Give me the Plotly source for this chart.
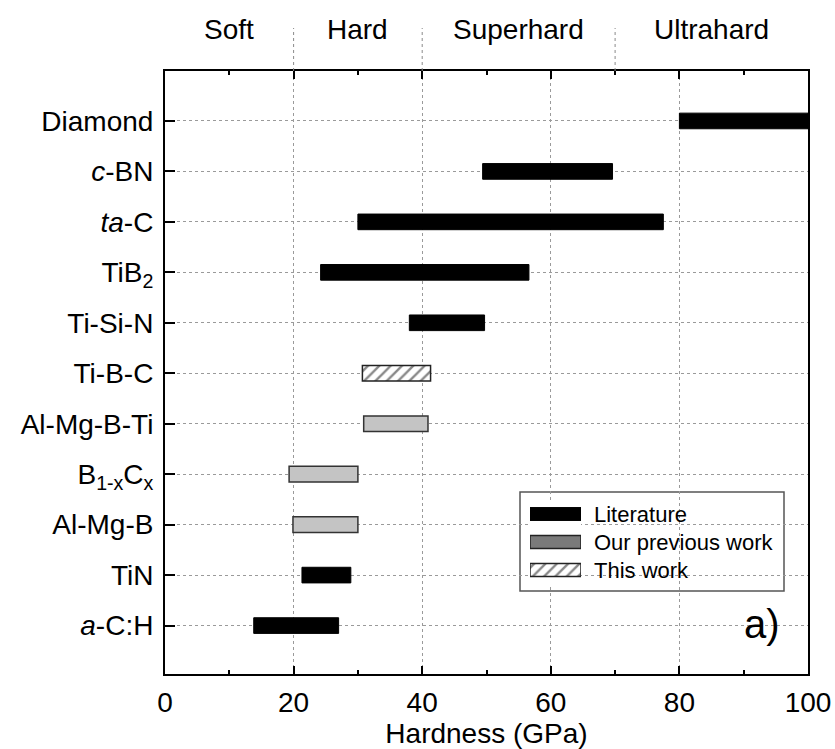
import plotly.graph_objects as go

# ---------------- data ----------------
materials = ["Diamond", "c-BN", "ta-C", "TiB2", "Ti-Si-N", "Ti-B-C",
             "Al-Mg-B-Ti", "B1-xCx", "Al-Mg-B", "TiN", "a-C:H"]
material_labels = ["Diamond", "<i>c</i>-BN", "<i>ta</i>-C", "TiB<sub>2</sub>", "Ti-Si-N", "Ti-B-C",
                   "Al-Mg-B-Ti", "B<sub>1-x</sub>C<sub>x</sub>", "Al-Mg-B", "TiN", "<i>a</i>-C:H"]
hardness_min = [80, 49.4, 30.0, 24.2, 38.0, 30.7, 30.9, 19.3, 19.9, 21.3, 13.8]
hardness_max = [100, 69.6, 77.5, 56.6, 49.7, 41.3, 40.9, 30.0, 30.0, 28.9, 27.0]
source = ["Literature", "Literature", "Literature", "Literature", "Literature", "This work",
          "Our previous work", "Our previous work", "Our previous work", "Literature", "Literature"]

regimes = ["Soft", "Hard", "Superhard", "Ultrahard"]
regime_bounds = [0, 20, 40, 70, 100]

legend_entries = ["Literature", "Our previous work", "This work"]
x_ticks = [0, 20, 40, 60, 80, 100]

# ---------------- styles ----------------
FONT = "Liberation Sans, Arial, Helvetica, sans-serif"
bar_style = {
    "Literature": dict(color="black", line=dict(color="black", width=1), pattern=dict(shape="")),
    "Our previous work": dict(color="#c4c4c4", line=dict(color="#333333", width=1.5), pattern=dict(shape="")),
    "This work": dict(color="white", line=dict(color="#222222", width=1.5),
                      pattern=dict(shape="/", fgcolor="#111111", bgcolor="white", size=8, solidity=0.3)),
}
legend_style = {
    "Literature": dict(color="black", line=dict(color="black", width=1), pattern=dict(shape="")),
    "Our previous work": dict(color="#7a7a7a", line=dict(color="#222222", width=1.5), pattern=dict(shape="")),
    "This work": dict(color="white", line=dict(color="#222222", width=1.5),
                      pattern=dict(shape="/", fgcolor="#111111", bgcolor="white", size=8, solidity=0.3)),
}

fig = go.Figure()

for src in legend_entries:
    idx = [i for i, s in enumerate(source) if s == src]
    fig.add_trace(go.Bar(
        y=[materials[i] for i in idx],
        x=[hardness_max[i] - hardness_min[i] for i in idx],
        base=[hardness_min[i] for i in idx],
        orientation="h", width=0.31, name=src, showlegend=False,
        marker=bar_style[src], xaxis="x", yaxis="y",
    ))

# custom legend swatches (small subplot)
for k, src in enumerate(legend_entries):
    fig.add_trace(go.Bar(
        y=[len(legend_entries) - 1 - k], x=[1], base=[0], orientation="h", width=0.46,
        marker=legend_style[src], showlegend=False, xaxis="x2", yaxis="y2", hoverinfo="skip",
    ))

W, H = 835, 749
L, R, T, B = 165, 27, 71, 75
pw, ph = W - L - R, H - T - B
Y_RANGE = [-0.96, 10.99]

def px_x(p):
    return (p - L) / pw

def px_y(p):
    return (H - B - p) / ph

fig.update_layout(
    width=W, height=H,
    margin=dict(l=L, r=R, t=T, b=B),
    paper_bgcolor="white", plot_bgcolor="white",
    barmode="overlay",
    font=dict(family=FONT, size=28, color="black"),
    xaxis=dict(
        range=[0, 100], tickvals=x_ticks, ticks="inside", ticklen=8, tickwidth=1.5,
        tickcolor="black", showline=True, linewidth=2, linecolor="black", mirror="ticks",
        showgrid=True, gridcolor="#9a9a9a", gridwidth=1, griddash="dot",
        minor=dict(dtick=10, tick0=0, ticks="inside", ticklen=4, tickwidth=1.5, tickcolor="black", showgrid=False),
        zeroline=False, tickfont=dict(size=28), ticklabelstandoff=2, automargin=False,
        title=dict(text="Hardness (GPa)", font=dict(size=28), standoff=4),
    ),
    yaxis=dict(
        type="category", categoryorder="array", categoryarray=materials[::-1],
        tickvals=materials, ticktext=material_labels,
        range=Y_RANGE, ticks="inside", ticklen=10, tickwidth=1.5, tickcolor="black",
        showline=True, linewidth=2, linecolor="black", mirror=True,
        showgrid=True, gridcolor="#9a9a9a", gridwidth=1, griddash="dot",
        zeroline=False, tickfont=dict(size=28), ticklabelstandoff=4, automargin=False,
    ),
    xaxis2=dict(domain=[px_x(530), px_x(581)], range=[0, 1], visible=False, anchor="y2", fixedrange=True),
    yaxis2=dict(domain=[px_y(584), px_y(500)], range=[-0.5, 2.5], visible=False, anchor="x2", fixedrange=True),
)

shapes = []
annotations = []

# regime dividers above the plot
for b in regime_bounds[1:-1]:
    shapes.append(dict(type="line", xref="x", yref="paper", x0=b, x1=b, y0=1, y1=px_y(28),
                       line=dict(color="#8a8a8a", width=1, dash="dot")))
for i, name in enumerate(regimes):
    annotations.append(dict(text=name, xref="x", yref="paper",
                            x=(regime_bounds[i] + regime_bounds[i + 1]) / 2, y=px_y(30),
                            showarrow=False, xanchor="center", yanchor="middle",
                            font=dict(size=28)))

# legend box (drawn under the swatch subplot, above main gridlines)
yspan = Y_RANGE[1] - Y_RANGE[0]
shapes.append(dict(type="rect", xref="x", yref="y",
                   x0=px_x(520) * 100, x1=px_x(784) * 100,
                   y0=Y_RANGE[0] + px_y(591) * yspan, y1=Y_RANGE[0] + px_y(492) * yspan,
                   fillcolor="white", line=dict(color="#555555", width=1.5), layer="below"))
for k, src in enumerate(legend_entries):
    annotations.append(dict(text=src, xref="paper", yref="y2", x=px_x(592),
                            y=len(legend_entries) - 1 - k, showarrow=False,
                            xanchor="left", yanchor="middle", font=dict(size=22)))

# panel label
annotations.append(dict(text="a)", xref="paper", yref="paper", x=px_x(762), y=px_y(624),
                        showarrow=False, xanchor="center", yanchor="middle", font=dict(size=40)))

fig.update_layout(shapes=shapes, annotations=annotations)

fig.write_html("out.html")
